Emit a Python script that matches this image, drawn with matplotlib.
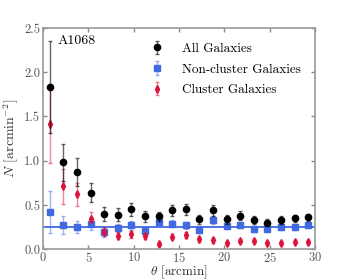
import numpy as np
import matplotlib
matplotlib.use("Agg")
import matplotlib.pyplot as plt

plt.rcParams['font.family'] = 'serif'
plt.rcParams['font.serif'] = ['cmr10', 'DejaVu Serif']
plt.rcParams['mathtext.fontset'] = 'cm'
plt.rcParams['axes.formatter.use_mathtext'] = True

theta = np.arange(20) * 1.5 + 0.75

all_gal = [1.83, 0.98, 0.875, 0.64, 0.40, 0.39, 0.45, 0.37, 0.37, 0.44,
           0.45, 0.34, 0.44, 0.34, 0.38, 0.33, 0.30, 0.33, 0.35, 0.36]
all_err = [0.52, 0.21, 0.16, 0.11, 0.08, 0.07, 0.07, 0.06, 0.05, 0.06,
           0.06, 0.05, 0.06, 0.05, 0.05, 0.04, 0.04, 0.04, 0.04, 0.04]

noncl = [0.42, 0.27, 0.25, 0.29, 0.19, 0.24, 0.27, 0.21, 0.31, 0.29,
         0.27, 0.22, 0.33, 0.26, 0.27, 0.23, 0.23, 0.25, 0.25, 0.27]
noncl_err = [0.24, 0.10, 0.07, 0.07, 0.05, 0.05, 0.05, 0.04, 0.04, 0.04,
             0.04, 0.04, 0.04, 0.03, 0.03, 0.03, 0.03, 0.03, 0.03, 0.03]

cl = [1.42, 0.71, 0.62, 0.34, 0.20, 0.15, 0.17, 0.15, 0.06, 0.14,
      0.16, 0.11, 0.10, 0.07, 0.09, 0.09, 0.07, 0.07, 0.08, 0.08]
cl_err = [0.45, 0.20, 0.13, 0.08, 0.05, 0.04, 0.04, 0.04, 0.02, 0.03,
          0.03, 0.03, 0.03, 0.02, 0.02, 0.02, 0.02, 0.02, 0.02, 0.02]

bg_level = 0.255

fig = plt.figure(figsize=(3.5, 2.8), dpi=100)
ax = fig.add_axes([0.123, 0.11, 0.777, 0.79])

black = '#000000'
blue = '#4169E1'
red = '#DC143C'

ax.axhline(bg_level, color=blue, lw=1.3, zorder=1)
ax.errorbar(theta, all_gal, yerr=all_err, fmt='o', color=black, ms=4.5,
            ecolor=(0, 0, 0, 0.6), elinewidth=1, capsize=1.5, label='All Galaxies', zorder=3)
ax.errorbar(theta, noncl, yerr=noncl_err, fmt='s', color=blue, ms=4.5,
            ecolor=(0.25, 0.41, 0.88, 0.5), elinewidth=1, capsize=1.5,
            label='Non-cluster Galaxies', zorder=2)
ax.errorbar(theta, cl, yerr=cl_err, fmt='d', color=red, ms=4,
            ecolor=(0.86, 0.08, 0.24, 0.5), elinewidth=1, capsize=1.5,
            label='Cluster Galaxies', zorder=2)

ax.set_xlim(0, 30)
ax.set_ylim(0, 2.5)
ax.set_xticks([0, 5, 10, 15, 20, 25, 30])
ax.set_yticks([0.0, 0.5, 1.0, 1.5, 2.0, 2.5])
ax.set_yticklabels(['0.0', '0.5', '1.0', '1.5', '2.0', '2.5'])
ax.tick_params(direction='in', top=True, right=True, labelsize=9,
               colors='#888888', labelcolor='#555555', length=3, width=1, pad=2)
ax.tick_params(axis='x', pad=1)
for s in ax.spines.values():
    s.set_color('#999999')
    s.set_linewidth(1.2)

ax.set_xlabel(r'$\theta$ [arcmin]', fontsize=9.5, color='#333333', labelpad=-1)
ax.set_ylabel(r'$N$ [arcmin$^{-2}$]', fontsize=10, color='#333333', labelpad=2)

ax.text(1.6, 2.35, 'A1068', fontsize=10, va='center')
ax.legend(loc='upper right', frameon=False, fontsize=9.5, handletextpad=0.9,
          borderaxespad=0.7, labelspacing=0.65, handlelength=2.0)

fig.savefig('out.png', dpi=100)
